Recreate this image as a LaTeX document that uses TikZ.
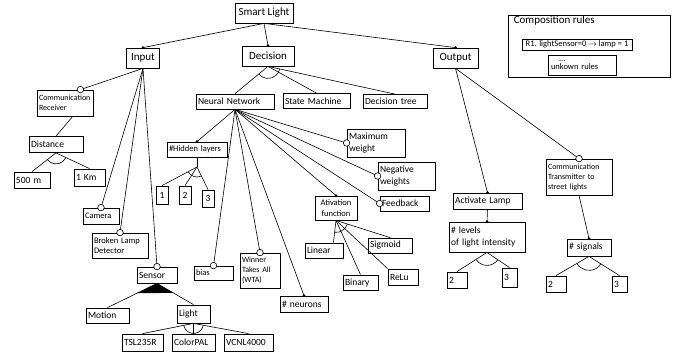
\documentclass[tikz,border=0pt]{standalone}
\usepackage{fontspec}
\setmainfont{Carlito}
\usepackage{tikz}
\usetikzlibrary{calc,positioning}
\hyphenpenalty=10000
\newcommand{\fbig}{\fontsize{11}{13}\selectfont}
\newcommand{\fmid}{\fontsize{9.5}{11.5}\selectfont}
\newcommand{\fsml}{\fontsize{8.5}{10.5}\selectfont}
\newcommand{\ftin}{\fontsize{8}{10}\selectfont}
\tikzstyle{root} = [draw, rectangle, line width=0.8pt, inner xsep=2pt, inner ysep=1pt, minimum height=20pt, font=\fbig]
\tikzstyle{feature} = [draw, rectangle, line width=0.8pt, inner xsep=2pt, inner ysep=1pt, align=left, font=\fmid]
\tikzstyle{link} = [line width=0.6pt]
\tikzstyle{mand} = [circle, fill=black, inner sep=0pt, minimum size=3pt]
\tikzstyle{opt} = [circle, draw, fill=white, line width=0.6pt, inner sep=0pt, minimum size=6.5pt]
% arc of an alternative group: junction, first child, last child, radius
\newcommand{\altarc}[4]{\draw[link] let \p1=($(#2)-(#1)$), \p2=($(#3)-(#1)$),
  \n1={atan2(\y1,\x1)}, \n2={atan2(\y2,\x2)} in
  ($(#1)+(\n1:#4)$) arc[start angle=\n1, end angle=\n2, radius=#4];}

\begin{document}
\begin{tikzpicture}[x=1pt, y=-1pt]
\useasboundingbox (0,0) rectangle (674,356);

% Root and first level
\node[root, minimum width=58pt] (smart) at (264,13) {Smart Light};
\node[root, minimum width=33pt] (input) at (143,58) {Input};
\node[root, minimum width=52pt] (decision) at (268,56) {Decision};
\node[root, minimum width=45pt] (output) at (455.5,58) {Output};

\draw[link] (smart.south) -- (input.north) node[mand] {};
\draw[link] (smart.south) -- (decision.north) node[mand] {};
\draw[link] (smart.south) -- (output.north) node[mand] {};

% Input branch
\node[feature, text width=52pt, minimum height=26pt, font=\ftin] (commrec) at (65,103) {Communication\\Receiver};
\node[feature, text width=50pt, minimum height=16pt] (distance) at (56,144.5) {Distance};
\node[feature, text width=32pt, minimum height=16pt] (m500) at (32,180) {500 m};
\node[feature, text width=27pt, minimum height=17pt] (km1) at (89.5,177.5) {1 Km};
\node[feature, text width=32pt, minimum height=16pt, font=\fsml] (camera) at (101,216) {Camera};
\node[feature, text width=52pt, minimum height=25pt, font=\fsml] (broken) at (120,245.5) {Broken Lamp\\Detector};
\node[feature, text width=36pt, minimum height=16pt] (sensor) at (157,275) {Sensor};
\node[feature, text width=39pt, minimum height=15pt] (motion) at (107.5,315.5) {Motion};
\node[feature, text width=29pt, minimum height=18pt] (light) at (193.5,314) {Light};
\node[feature, text width=37pt, minimum height=17pt] (tsl) at (142.5,342.5) {TSL235R};
\node[feature, text width=39pt, minimum height=17pt] (colorpal) at (193.5,342.5) {ColorPAL};
\node[feature, text width=45pt, minimum height=17pt] (vcnl) at (248.5,342.5) {VCNL4000};

\draw[link] (input.south) -- (commrec.41) node[opt] {};
\draw[link] (commrec.-60) -- (distance.north);
\draw[link] (distance.south) -- (m500.north);
\draw[link] (distance.south) -- (km1.north);
\altarc{distance.south}{m500.north}{km1.north}{11pt}
\draw[link] (input.south) -- (camera.north) node[opt] {};
\draw[link] (input.south) -- (broken.north) node[opt] {};
\draw[link] (input.south) -- (sensor.north) node[opt] {};

\draw[link] (sensor.south) -- (motion.north);
\draw[link] (sensor.south) -- (light.north);
\fill (sensor.south) -- ($(sensor.south)!0.4!(motion.north)$) -- ($(sensor.south)!0.45!(light.north)$) -- cycle;

\draw[link] (light.south) -- (tsl.north);
\draw[link] (light.south) -- (colorpal.north);
\draw[link] (light.south) -- (vcnl.north);
\altarc{light.south}{tsl.north}{vcnl.north}{10pt}

% Decision branch
\node[feature, text width=74pt, minimum height=15pt] (nn) at (235,101.5) {Neural Network};
\node[feature, text width=63pt, minimum height=15pt] (sm) at (316.5,101) {State Machine};
\node[feature, text width=60pt, minimum height=14pt] (dt) at (395,101.5) {Decision tree};

\draw[link] (decision.south) -- (nn.north);
\draw[link] (decision.south) -- (sm.north);
\draw[link] (decision.south) -- (dt.north);
\altarc{decision.south}{nn.north}{dt.north}{12pt}

% Neural network features
\node[feature, text width=56pt, minimum height=15pt, font=\fsml] (hidden) at (197,149.5) {\#Hidden layers};
\node[feature, text width=8pt, minimum height=18pt, align=center] (h1) at (162,195) {1};
\node[feature, text width=8pt, minimum height=18pt, align=center] (h2) at (185,195) {2};
\node[feature, text width=8pt, minimum height=17pt, align=center] (h3) at (208,198.5) {3};
\node[feature, text width=54pt, minimum height=28pt] (maxw) at (376,143) {Maximum\\weight};
\node[feature, text width=53pt, minimum height=28pt] (negw) at (406.5,176) {Negative\\weights};
\node[feature, text width=45pt, minimum height=15pt] (feedback) at (404.5,203.5) {Feedback};
\node[feature, text width=38pt, minimum height=24pt, font=\fsml, align=center] (activ) at (336,208) {Ativation\\function};
\node[feature, text width=34pt, minimum height=15pt] (linear) at (324,250.5) {Linear};
\node[feature, text width=40pt, minimum height=15pt] (sigmoid) at (390,245.5) {Sigmoid};
\node[feature, text width=31pt, minimum height=15pt] (binary) at (360.5,282.5) {Binary};
\node[feature, text width=26pt, minimum height=16pt] (relu) at (403,277) {ReLu};
\node[feature, text width=44pt, minimum height=16pt] (neurons) at (304,304) {\# neurons};
\node[feature, text width=36pt, minimum height=35pt, font=\ftin] (wta) at (260,270.5) {Winner\\Takes All\\(WTA)};
\node[feature, text width=35pt, minimum height=14pt, font=\fsml] (bias) at (213.5,273) {bias};

\draw[link] (nn.south) -- (hidden.north) node[mand] {};
\draw[link] (nn.south) -- (bias.north) node[opt] {};
\draw[link] (nn.south) -- (wta.north) node[opt] {};
\draw[link] (nn.south) -- (neurons.north) node[mand] {};
\draw[link] (nn.south) -- (activ.north) node[mand] {};
\draw[link] (nn.south) -- (feedback.west) node[opt] {};
\draw[link] (nn.south) -- (negw.west) node[opt] {};
\draw[link] (nn.south) -- (maxw.west) node[opt] {};

\coordinate (hj) at (197,167);
\draw[link] (hidden.south) -- (hj);
\draw[link] (hj) -- (h1.north);
\draw[link] (hj) -- (h2.north);
\draw[link] (hj) -- (h3.north);
\altarc{hj}{h1.north}{h3.north}{10pt}

\draw[link] (activ.south) -- (linear.40);
\draw[link] (activ.south) -- (binary.north);
\draw[link] (activ.south) -- (relu.north west);
\draw[link] (activ.south) -- (sigmoid.north);
\altarc{activ.south}{linear.40}{sigmoid.north}{12pt}

% Output branch
\node[feature, text width=65pt, minimum height=16pt] (actlamp) at (487.5,201) {Activate Lamp};
\node[feature, text width=72pt, minimum height=30pt] (levels) at (487,237) {\# levels\\of light intensity};
\node[feature, text width=16pt, minimum height=16pt] (l2) at (457,280) {2};
\node[feature, text width=11pt, minimum height=19pt] (l3) at (509.5,277.5) {3};
\node[feature, text width=62pt, minimum height=36pt, font=\ftin] (commtr) at (579,177) {Communication\\Transmitter to\\street lights};
\node[feature, text width=40pt, minimum height=17pt] (signals) at (589,247.5) {\# signals};
\node[feature, text width=16pt, minimum height=16pt] (s2) at (556,284) {2};
\node[feature, text width=11pt, minimum height=16pt] (s3) at (619.5,284) {3};

\draw[link] (output.south) -- (actlamp.north) node[mand] {};
\draw[link] (output.south) -- (commtr.north) node[opt] {};
\draw[link] (actlamp.south) -- (levels.north) node[mand] {};
\draw[link] (levels.south) -- (l2.north);
\draw[link] (levels.south) -- (l3.north);
\altarc{levels.south}{l2.north}{l3.north}{13pt}
\draw[link] (commtr.south) -- (signals.north) node[mand] {};
\draw[link] (signals.south) -- (s2.north);
\draw[link] (signals.south) -- (s3.north);
\altarc{signals.south}{s2.north}{s3.north}{14pt}

% Composition rules
\node[draw, line width=0.8pt, minimum width=162pt, minimum height=62pt] (rules) at (589,46) {};
\node[below right=1pt and 6pt of rules.north west, inner sep=0pt, font=\fbig] (rulestitle) {Composition rules};
\node[draw, line width=0.6pt, minimum width=110pt, minimum height=11pt, inner sep=0.5pt, font=\fsml] (r1) at (577,44.5) {R1. lightSensor=0 $\rightarrow$ lamp = 1};
\node[draw, line width=0.6pt, text width=62pt, minimum height=20pt, inner xsep=3pt, inner ysep=1pt, align=left, font=\fsml] (unk) at (582,65) {\hspace*{8pt}...\\[-2pt]unkown rules};
\end{tikzpicture}
\end{document}
